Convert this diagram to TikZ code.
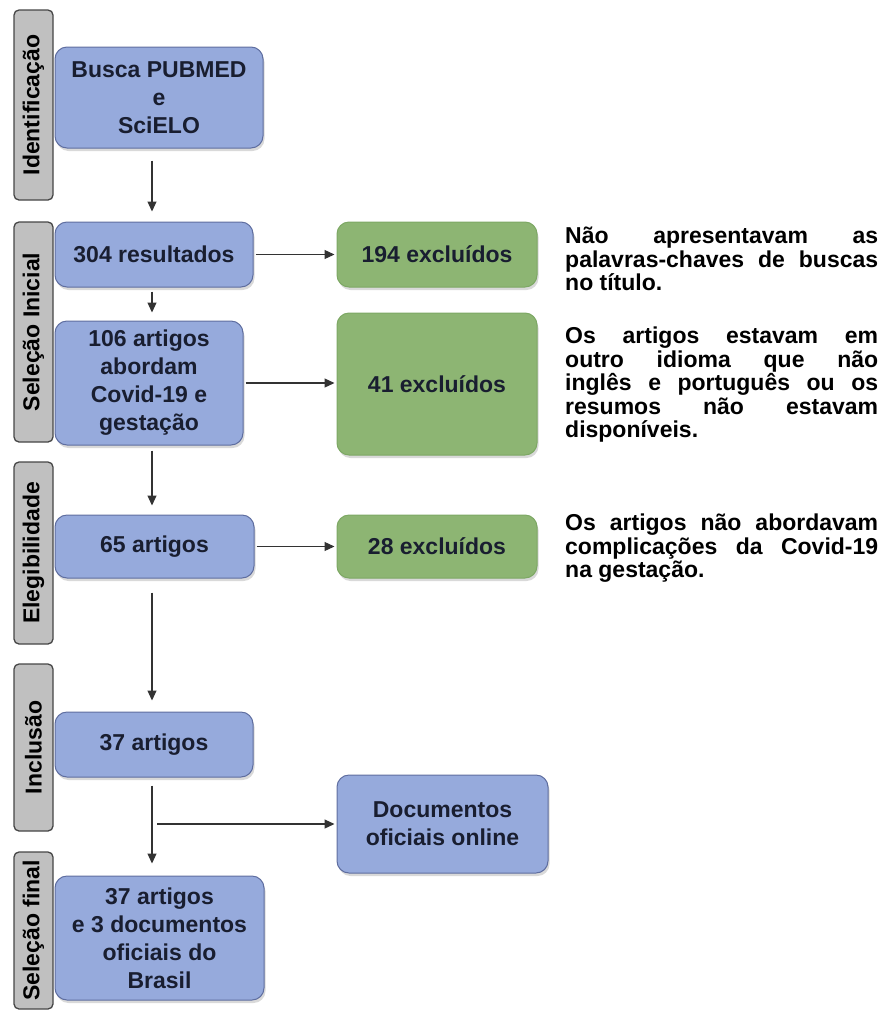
\documentclass[tikz,border=0pt]{standalone}
\usepackage{fontspec}
\setmainfont{Liberation Sans}
\usetikzlibrary{arrows.meta,shadows}

\definecolor{boxblue}{RGB}{150,170,220}
\definecolor{boxblueline}{RGB}{95,110,160}
\definecolor{boxgreen}{RGB}{141,181,115}
\definecolor{boxgreenline}{RGB}{125,168,100}
\definecolor{bargray}{RGB}{192,192,192}
\definecolor{barline}{RGB}{70,70,70}
\definecolor{inkdark}{RGB}{25,30,48}

\begin{document}
\begin{tikzpicture}[x=1pt,y=-1pt,>={Triangle[length=10pt,width=9pt]},
  stage/.style={draw=barline, line width=1.3pt, fill=bargray, rounded corners=5pt, rotate=90,
    minimum height=39pt, inner sep=0pt, font=\fontsize{23}{23}\selectfont\bfseries},
  bluebox/.style={draw=boxblueline, line width=1pt, fill=boxblue, rounded corners=12pt, align=center,
    inner sep=0pt, text=inkdark, font=\fontsize{23}{28}\selectfont\bfseries,
    drop shadow={opacity=0.3, shadow xshift=1.5pt, shadow yshift=-3pt}},
  greenbox/.style={bluebox, draw=boxgreenline, fill=boxgreen},
  note/.style={anchor=north west, inner sep=0pt, text width=313pt, align=justify,
    font=\fontsize{23}{23.5}\selectfont\bfseries},
  flow/.style={->, draw=black!80, line width=1.2pt}]
  \useasboundingbox (0,0) rectangle (880,1010);

  % stage bars on the left
  \foreach \name/\y/\len/\txt in {idbar/105/190/Identificação, selbar/332/220/Seleção Inicial,
      elegbar/553/182/Elegibilidade, inclbar/747.5/167/Inclusão, finbar/930.5/157/Seleção final}
    \node[stage, minimum width=\len pt] (\name) at (33.5,\y) {\txt};

  % main column
  \node[bluebox, minimum width=208pt, minimum height=101pt] (busca) at (159,97.5) {Busca PUBMED\\e\\SciELO};
  \node[bluebox, minimum width=198pt, minimum height=65pt] (res) at (154,254.5) {304 resultados};
  \node[bluebox, minimum width=188pt, minimum height=124pt] (art106) at (149,383) {106 artigos\\abordam\\Covid-19 e\\gestação};
  \node[bluebox, minimum width=199pt, minimum height=63pt] (art65) at (154.5,546.5) {65 artigos};
  \node[bluebox, minimum width=198pt, minimum height=65pt] (art37) at (154,744.5) {37 artigos};
  \node[bluebox, minimum width=209pt, minimum height=124pt] (final) at (159.5,938) {37 artigos\\e 3 documentos\\oficiais do\\Brasil};

  % excluded and extra boxes
  \node[greenbox, minimum width=200pt, minimum height=65pt] (exc194) at (437,254.5) {194 excluídos};
  \node[greenbox, minimum width=200pt, minimum height=142pt] (exc41) at (437,384) {41 excluídos};
  \node[greenbox, minimum width=200pt, minimum height=63pt] (exc28) at (437,546.5) {28 excluídos};
  \node[bluebox, minimum width=211pt, minimum height=98pt] (docs) at (442.5,824) {Documentos\\oficiais online};

  % reasons
  \node[note] (note194) at (565,227) {Não apresentavam as\linebreak palavras-chaves de buscas\linebreak no título.};
  \node[note] (note41) at (565,327) {Os artigos estavam em\linebreak outro idioma que não\linebreak inglês e português ou os\linebreak resumos não estavam\linebreak disponíveis.};
  \node[note] (note28) at (565,514) {Os artigos não abordavam\linebreak complicações da Covid-19\linebreak na gestação.};

  % arrows down the column
  \coordinate (spine) at (152,0);
  \draw[flow, shorten <=12pt, shorten >=10pt] (busca.south -| spine) -- (res.north -| spine);
  \draw[flow, shorten <=4pt, shorten >=8pt] (res.south -| spine) -- (art106.north -| spine);
  \draw[flow, shorten <=5pt, shorten >=9pt] (art106.south -| spine) -- (art65.north -| spine);
  \draw[flow, shorten <=14pt, shorten >=11pt] (art65.south -| spine) -- (art37.north -| spine);
  \draw[flow, shorten <=8pt, shorten >=12pt] (art37.south -| spine) -- (final.north -| spine);

  % arrows to the right
  \draw[flow, shorten <=2pt, shorten >=2pt] (res.east) -- (exc194.west);
  \draw[flow, shorten <=2pt, shorten >=2pt] (art106.east) -- (art106.east -| exc41.west);
  \draw[flow, shorten <=2pt, shorten >=2pt] (art65.east) -- (exc28.west);
  \draw[flow, shorten <=5pt, shorten >=2pt] (docs.west -| spine) -- (docs.west);
\end{tikzpicture}
\end{document}
